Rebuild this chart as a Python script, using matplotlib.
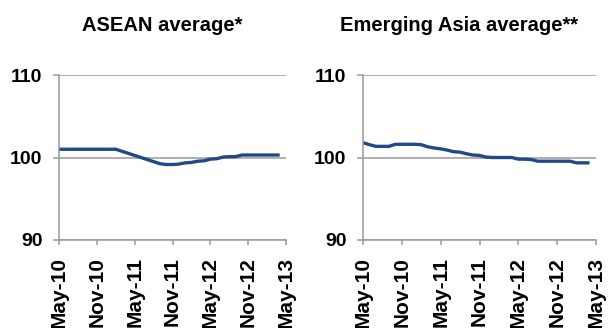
import matplotlib
matplotlib.use("Agg")
import matplotlib.pyplot as plt

# monthly index values, May-10 .. Apr-13
asean = [
    101.0, 101.0, 101.0, 101.0, 101.0, 101.0, 101.0, 101.0, 101.0, 101.0,
    100.75, 100.5, 100.25, 100.0, 99.75, 99.5, 99.25, 99.15, 99.15, 99.2,
    99.35, 99.4, 99.55, 99.6, 99.8, 99.85, 100.05, 100.1, 100.1, 100.3,
    100.3, 100.3, 100.3, 100.3, 100.3, 100.3,
]
em_asia = [
    101.8, 101.55, 101.35, 101.35, 101.35, 101.6, 101.6, 101.6, 101.6, 101.55,
    101.3, 101.15, 101.05, 100.9, 100.7, 100.65, 100.45, 100.3, 100.25, 100.05,
    100.0, 100.0, 100.0, 100.0, 99.8, 99.8, 99.75, 99.55, 99.55, 99.55,
    99.55, 99.55, 99.55, 99.35, 99.35, 99.35,
]
tick_labels = ["May-10", "Nov-10", "May-11", "Nov-11", "May-12", "Nov-12", "May-13"]
titles = ["ASEAN average*", "Emerging Asia average**"]

LINE = "#1F4A85"
GREY = "#9A9A9A"

plt.rcParams["font.family"] = ["Liberation Sans", "DejaVu Sans"]

fig = plt.figure(figsize=(6.08, 3.28), dpi=100)
W, H = 608, 328

panels = [
    (asean, (59, 286), 162),
    (em_asia, (363, 596), 459),
]

for (values, (x0, x1), tx), title in zip(panels, titles):
    ax = fig.add_axes([x0 / W, 1 - 240 / H, (x1 - x0) / W, (240 - 75) / H])
    ax.plot(range(len(values)), values, color=LINE, lw=2.4, solid_capstyle="butt")
    ax.set_xlim(0, 36)
    ax.set_ylim(90, 110)
    ax.set_yticks([90, 100, 110])
    ax.set_xticks(range(0, 37, 6))
    ax.set_xticklabels(tick_labels, rotation=90, fontsize=15, fontweight="bold")
    for lab in ax.get_yticklabels():
        lab.set_fontsize(14)
        lab.set_fontweight("bold")
    ax.grid(axis="y", color=GREY, lw=1.1)
    ax.set_axisbelow(True)
    for s in ("top", "right"):
        ax.spines[s].set_visible(False)
    for s in ("left", "bottom"):
        ax.spines[s].set_color(GREY)
        ax.spines[s].set_linewidth(1.1)
    ax.tick_params(axis="y", length=4.3, width=1.1, color=GREY, pad=7.5)
    ax.tick_params(axis="x", length=3.5, width=1.1, color=GREY, pad=9)
    fig.text(tx / W, 1 - 31 / H, title, ha="center", va="baseline",
             fontsize=14.5, fontweight="bold")

fig.savefig("out.png", dpi=100)
